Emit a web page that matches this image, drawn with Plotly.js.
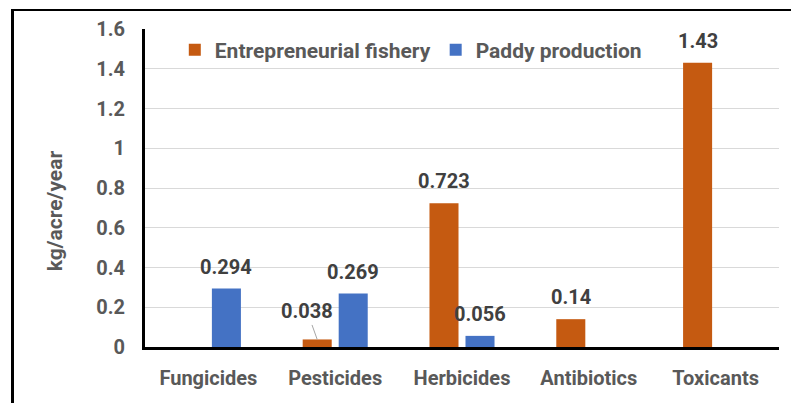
<!DOCTYPE html>
<html>
<head>
<meta charset="utf-8">
<script src="https://cdn.plot.ly/plotly-3.0.1.min.js"></script>
<style>
html,body{margin:0;padding:0;background:#fff;}
#wrap{position:relative;width:791px;height:403px;overflow:hidden;}
#chart{position:absolute;left:0;top:0;width:791px;height:403px;}
#frame{position:absolute;left:11px;top:9px;width:800px;height:400px;border-top:2px solid #000;border-left:3px solid #000;pointer-events:none;}
</style>
</head>
<body>
<div id="wrap"><div id="chart"></div><div id="frame"></div></div>
<script>
const categories = ['Fungicides','Pesticides','Herbicides','Antibiotics','Toxicants'];
const fisheryName = 'Entrepreneurial fishery';
const paddyName = 'Paddy production';
const fisheryValues = [null, 0.038, 0.723, 0.14, 1.43];
const paddyValues = [0.294, 0.269, 0.056, null, null];
const yTickVals = [0, 0.2, 0.4, 0.6, 0.8, 1, 1.2, 1.4, 1.6];
const yTickText = ['0','0.2','0.4','0.6','0.8','1','1.2','1.4','1.6'];
const yTitle = 'kg/acre/year';

const FONT = 'Roboto, sans-serif';
const FS = 20;
const W = 'bold';
const ORANGE = '#C55A11';
const BLUE = '#4472C4';
const TICK = '#595959';
const LABEL = '#404040';

const traces = [
  {type:'bar', name:fisheryName, x:categories, y:fisheryValues, marker:{color:ORANGE}, hoverinfo:'none'},
  {type:'bar', name:paddyName, x:categories, y:paddyValues, marker:{color:BLUE}, hoverinfo:'none'}
];

const annotations = [];
const series = [fisheryValues, paddyValues];
series.forEach((vals, s) => {
  vals.forEach((v, i) => {
    if (v === null) return;
    const base = {x:categories[i], y:v, xref:'x', yref:'y', text:String(v),
      font:{family:FONT, size:FS, color:LABEL, weight:W}, xshift: s===0 ? -18 : 18};
    if (s === 0 && categories[i] === 'Pesticides') {
      Object.assign(base, {showarrow:true, arrowhead:0, arrowwidth:1, arrowcolor:'#a6a6a6', ax:-10, ay:-28, standoff:0});
    } else {
      Object.assign(base, {showarrow:false, yanchor:'middle', yshift:22});
    }
    annotations.push(base);
  });
});
annotations.push({text:yTitle, textangle:-90, xref:'paper', yref:'paper', x:-0.142, y:0.43,
  showarrow:false, font:{family:FONT, size:21, color:TICK, weight:W}, xanchor:'center', yanchor:'middle'});

const layout = {
  width:791, height:403,
  margin:{l:145, r:12, t:29, b:56},
  paper_bgcolor:'#fff', plot_bgcolor:'#fff',
  barmode:'group', bargap:0.432, bargroupgap:0.194,
  showlegend:true,
  legend:{orientation:'h', x:0.047, xanchor:'left', y:0.934, yanchor:'middle',
    font:{family:FONT, size:21, color:TICK, weight:W}, bgcolor:'rgba(0,0,0,0)', traceorder:'normal'},
  xaxis:{type:'category', showgrid:false, showline:true, linecolor:'#000', linewidth:3,
    ticks:'', ticklabelstandoff:11, tickfont:{family:FONT, size:FS, color:TICK, weight:W}, fixedrange:true},
  yaxis:{range:[0,1.6], tickvals:yTickVals, ticktext:yTickText, showgrid:true, gridcolor:'#d9d9d9', gridwidth:1,
    zeroline:false, showline:true, linecolor:'#000', linewidth:3, ticks:'', ticklabelstandoff:13,
    tickfont:{family:FONT, size:FS, color:TICK, weight:W}, fixedrange:true},
  annotations:annotations
};
Plotly.newPlot('chart', traces, layout, {displayModeBar:false, staticPlot:true});
</script>
</body>
</html>
